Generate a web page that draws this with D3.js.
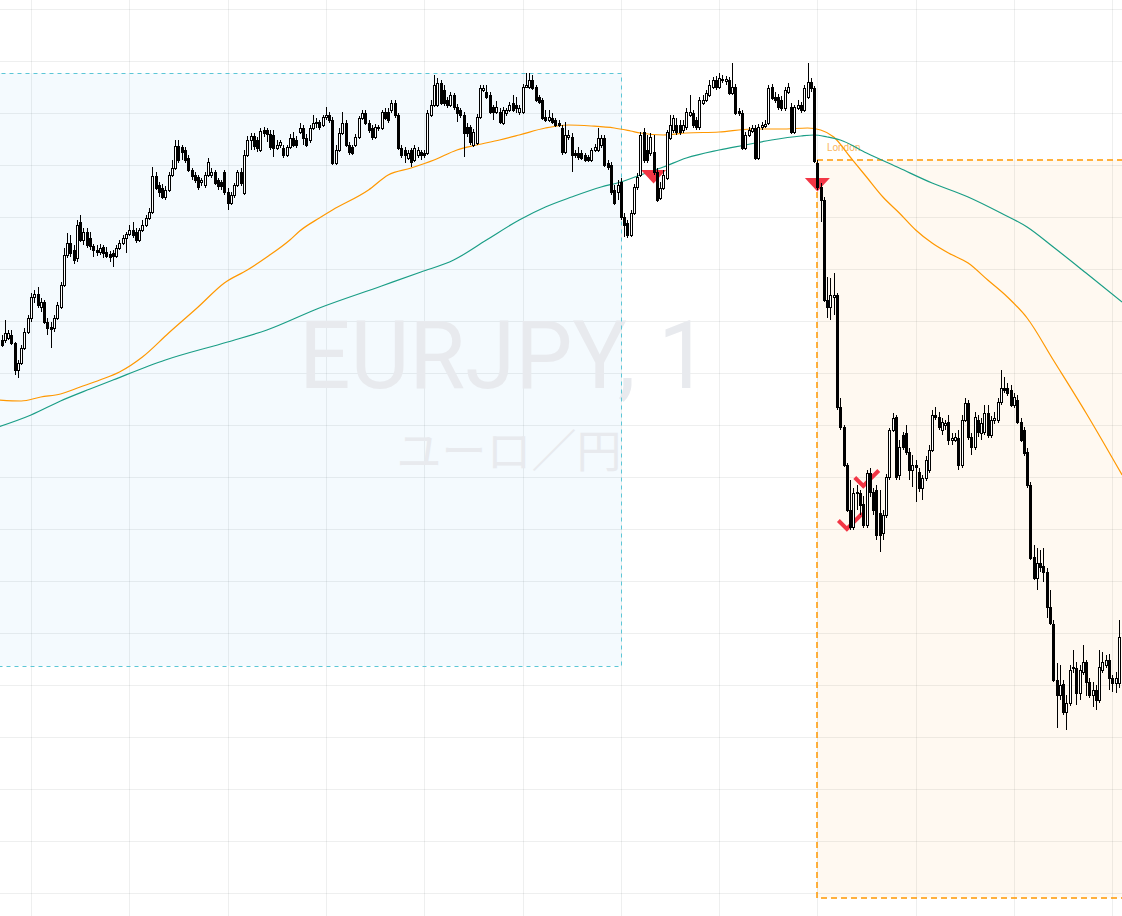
<!DOCTYPE html>
<html><head><meta charset="utf-8">
<script src="https://cdn.jsdelivr.net/npm/d3@7"></script>
<style>html,body{margin:0;padding:0;background:#fff;overflow:hidden}</style>
</head><body>
<svg id="chart" width="1122" height="916"></svg>
<script>
// ---------- DATA ----------
const symbolText = "EURJPY, 1";
const symbolName = "ユーロ／円";
const firstCandle = new Date(2024, 5, 12, 11, 51, 0);   // one candle per minute
const viewStart = new Date(2024, 5, 12, 11, 50, 32);
const viewEnd = new Date(2024, 5, 12, 17, 32, 58);

const opens = [
161.660,161.660,161.662,161.665,161.657,161.630,161.637,161.652,161.668,161.682,
161.703,161.706,161.693,161.698,161.678,161.673,161.672,161.682,161.693,161.715,
161.745,161.757,161.750,161.742,161.778,161.760,161.768,161.762,161.754,161.750,
161.748,161.753,161.748,161.746,161.747,161.744,161.752,161.757,161.762,161.766,
161.770,161.768,161.760,161.770,161.775,161.782,161.788,161.824,161.815,161.812,
161.803,161.810,161.825,161.832,161.854,161.853,161.850,161.842,161.830,161.825,
161.823,161.818,161.815,161.825,161.825,161.828,161.820,161.818,161.828,161.808,
161.797,161.805,161.815,161.828,161.807,161.845,161.860,161.864,161.860,161.850,
161.870,161.870,161.866,161.865,161.852,161.855,161.852,161.845,161.853,161.862,
161.860,161.868,161.872,161.862,161.860,161.872,161.877,161.878,161.875,161.883,
161.885,161.880,161.837,161.850,161.867,161.877,161.855,161.853,161.855,161.863,
161.882,161.887,161.877,161.872,161.863,161.873,161.872,161.888,161.888,161.890,
161.897,161.885,161.852,161.850,161.842,161.850,161.840,161.845,161.848,161.847,
161.847,161.885,161.895,161.895,161.917,161.910,161.900,161.895,161.905,161.893,
161.890,161.885,161.873,161.873,161.855,161.857,161.883,161.910,161.908,161.905,
161.893,161.888,161.888,161.877,161.887,161.890,161.897,161.895,161.888,161.888,
161.913,161.913,161.920,161.913,161.903,161.900,161.883,161.880,161.882,161.880,
161.877,161.872,161.848,161.863,161.863,161.847,161.847,161.847,161.845,161.843,
161.840,161.850,161.850,161.855,161.862,161.837,161.835,161.810,161.808,161.818,
161.783,161.777,161.765,161.787,161.813,161.825,161.868,161.850,161.847,161.848,
161.828,161.802,161.812,161.822,161.862,161.870,161.875,161.875,161.870,161.873,
161.885,161.887,161.880,161.873,161.897,161.900,161.905,161.913,161.920,161.913,
161.920,161.919,161.920,161.907,161.913,161.889,161.887,161.852,161.865,161.869,
161.872,161.842,161.873,161.874,161.877,161.913,161.903,161.903,161.900,161.892,
161.908,161.893,161.868,161.892,161.895,161.890,161.903,161.918,161.912,161.837,
161.813,161.800,161.700,161.693,161.703,161.705,161.593,161.573,161.535,161.490,
161.473,161.507,161.507,161.496,161.475,161.527,161.508,161.510,161.487,161.467,
161.485,161.523,161.570,161.583,161.525,161.565,161.567,161.548,161.530,161.535,
161.528,161.512,161.522,161.530,161.550,161.585,161.583,161.570,161.575,161.578,
161.560,161.560,161.562,161.535,161.580,161.597,161.563,161.553,161.580,161.567,
161.568,161.587,161.565,161.580,161.580,161.598,161.612,161.612,161.610,161.595,
161.600,161.578,161.570,161.548,161.515,161.443,161.422,161.437,161.434,161.428,
161.393,161.376,161.320,161.305,161.316,161.288,161.297,161.332,161.332,161.307,
161.328,161.338,161.318,161.305,161.310,161.300,161.330,161.335,161.340,161.322,
161.317,161.317];

const highs = [
161.665,161.680,161.670,161.670,161.658,161.640,161.655,161.672,161.685,161.707,
161.710,161.713,161.702,161.700,161.682,161.678,161.685,161.698,161.718,161.752,
161.767,161.765,161.755,161.780,161.785,161.772,161.772,161.768,161.756,161.755,
161.756,161.755,161.753,161.749,161.750,161.755,161.760,161.765,161.768,161.775,
161.778,161.772,161.772,161.780,161.785,161.792,161.833,161.828,161.818,161.816,
161.814,161.828,161.840,161.860,161.860,161.855,161.853,161.845,161.832,161.828,
161.825,161.822,161.828,161.842,161.832,161.830,161.822,161.820,161.830,161.812,
161.808,161.817,161.830,161.832,161.850,161.864,161.867,161.867,161.863,161.872,
161.873,161.872,161.870,161.870,161.860,161.860,161.855,161.855,161.866,161.868,
161.864,161.877,161.875,161.866,161.875,161.885,161.882,161.880,161.885,161.893,
161.888,161.883,161.855,161.872,161.888,161.880,161.858,161.855,161.866,161.884,
161.890,161.890,161.880,161.875,161.876,161.875,161.890,161.892,161.892,161.900,
161.900,161.887,161.855,161.853,161.850,161.852,161.855,161.853,161.850,161.850,
161.890,161.900,161.925,161.922,161.920,161.915,161.903,161.908,161.907,161.896,
161.892,161.888,161.877,161.875,161.871,161.886,161.915,161.915,161.915,161.908,
161.895,161.899,161.892,161.893,161.892,161.898,161.905,161.903,161.895,161.916,
161.927,161.927,161.925,161.915,161.905,161.902,161.890,161.890,161.887,161.882,
161.880,161.875,161.878,161.870,161.867,161.850,161.853,161.850,161.847,161.845,
161.852,161.856,161.872,161.865,161.865,161.840,161.838,161.815,161.820,161.822,
161.787,161.780,161.790,161.816,161.827,161.868,161.872,161.865,161.867,161.865,
161.832,161.818,161.830,161.870,161.885,161.885,161.882,161.880,161.880,161.892,
161.905,161.890,161.883,161.903,161.905,161.910,161.920,161.923,161.924,161.927,
161.925,161.924,161.923,161.937,161.916,161.892,161.890,161.868,161.873,161.875,
161.875,161.876,161.878,161.880,161.915,161.916,161.908,161.906,161.904,161.913,
161.917,161.897,161.895,161.900,161.898,161.915,161.937,161.922,161.914,161.840,
161.817,161.803,161.723,161.722,161.727,161.707,161.602,161.575,161.537,161.520,
161.512,161.515,161.510,161.504,161.530,161.532,161.512,161.515,161.510,161.490,
161.526,161.572,161.587,161.585,161.560,161.568,161.575,161.552,161.545,161.540,
161.532,161.525,161.544,161.555,161.590,161.593,161.588,161.582,161.580,161.585,
161.567,161.567,161.570,161.585,161.602,161.600,161.567,161.588,161.585,161.582,
161.595,161.595,161.584,161.588,161.602,161.630,161.623,161.617,161.615,161.607,
161.605,161.582,161.573,161.552,161.518,161.455,161.452,161.450,161.452,161.432,
161.410,161.380,161.337,161.335,161.320,161.305,161.335,161.350,161.338,161.335,
161.355,161.340,161.322,161.318,161.315,161.350,161.348,161.345,161.346,161.325,
161.328,161.380];

const lows = [
161.653,161.657,161.660,161.655,161.625,161.622,161.635,161.650,161.666,161.678,
161.697,161.692,161.688,161.676,161.665,161.652,161.668,161.680,161.691,161.713,
161.742,161.743,161.736,161.738,161.758,161.755,161.752,161.750,161.743,161.744,
161.745,161.742,161.742,161.738,161.733,161.742,161.750,161.755,161.747,161.764,
161.762,161.757,161.758,161.768,161.773,161.780,161.786,161.810,161.803,161.801,
161.800,161.808,161.823,161.830,161.837,161.840,161.837,161.828,161.820,161.817,
161.810,161.814,161.812,161.823,161.822,161.815,161.810,161.810,161.805,161.790,
161.795,161.802,161.813,161.814,161.805,161.843,161.850,161.850,161.848,161.848,
161.863,161.858,161.850,161.843,161.850,161.852,161.842,161.843,161.851,161.853,
161.852,161.866,161.855,161.853,161.857,161.870,161.872,161.870,161.873,161.880,
161.877,161.835,161.835,161.848,161.865,161.853,161.845,161.845,161.853,161.861,
161.880,161.875,161.867,161.860,161.861,161.869,161.870,161.880,161.877,161.887,
161.882,161.850,161.842,161.837,161.840,161.833,161.838,161.842,161.840,161.842,
161.845,161.883,161.893,161.893,161.895,161.894,161.892,161.893,161.890,161.878,
161.882,161.843,161.863,161.855,161.853,161.855,161.881,161.908,161.901,161.886,
161.880,161.886,161.876,161.875,161.884,161.888,161.888,161.887,161.885,161.886,
161.912,161.911,161.910,161.898,161.896,161.880,161.878,161.878,161.876,161.873,
161.873,161.845,161.846,161.860,161.828,161.842,161.840,161.840,161.838,161.838,
161.838,161.848,161.848,161.852,161.833,161.830,161.805,161.795,161.800,161.780,
161.763,161.762,161.763,161.785,161.810,161.823,161.837,161.837,161.844,161.825,
161.798,161.800,161.810,161.820,161.860,161.867,161.865,161.865,161.867,161.870,
161.883,161.872,161.870,161.870,161.895,161.898,161.903,161.911,161.910,161.911,
161.917,161.915,161.905,161.905,161.885,161.884,161.850,161.850,161.863,161.867,
161.840,161.840,161.870,161.872,161.875,161.900,161.897,161.890,161.889,161.889,
161.906,161.866,161.866,161.890,161.887,161.888,161.901,161.908,161.837,161.810,
161.778,161.698,161.682,161.680,161.685,161.590,161.570,161.533,161.488,161.470,
161.470,161.490,161.485,161.472,161.472,161.503,161.485,161.460,161.448,161.460,
161.482,161.520,161.568,161.520,161.520,161.550,161.545,161.520,161.513,161.498,
161.508,161.500,161.519,161.527,161.548,161.580,161.570,161.565,161.570,161.555,
161.555,161.558,161.530,161.532,161.578,161.560,161.545,161.550,161.563,161.560,
161.565,161.562,161.562,161.576,161.577,161.595,161.607,161.604,161.593,161.592,
161.576,161.558,161.544,161.512,161.440,161.420,161.410,161.428,161.418,161.382,
161.375,161.318,161.272,161.300,161.285,161.270,161.294,161.327,161.295,161.300,
161.325,161.304,161.302,161.293,161.290,161.297,161.327,161.332,161.310,161.308,
161.307,161.312];

const closes = [
161.655,161.667,161.667,161.657,161.630,161.637,161.652,161.668,161.682,161.703,
161.706,161.695,161.698,161.678,161.672,161.671,161.682,161.695,161.715,161.745,
161.757,161.747,161.740,161.775,161.760,161.768,161.755,161.754,161.750,161.748,
161.752,161.747,161.744,161.743,161.744,161.752,161.757,161.762,161.766,161.770,
161.765,161.760,161.770,161.775,161.782,161.788,161.824,161.812,161.808,161.803,
161.810,161.825,161.832,161.854,161.840,161.848,161.840,161.830,161.824,161.820,
161.813,161.820,161.825,161.838,161.828,161.817,161.814,161.814,161.808,161.797,
161.805,161.815,161.828,161.817,161.845,161.860,161.864,161.854,161.852,161.869,
161.867,161.866,161.853,161.852,161.855,161.858,161.845,161.853,161.862,161.855,
161.855,161.872,161.862,161.855,161.872,161.877,161.878,161.873,161.883,161.885,
161.880,161.837,161.850,161.867,161.877,161.855,161.848,161.847,161.863,161.882,
161.887,161.877,161.870,161.863,161.873,161.872,161.888,161.882,161.880,161.897,
161.885,161.852,161.845,161.845,161.847,161.838,161.852,161.850,161.845,161.845,
161.887,161.895,161.915,161.917,161.897,161.897,161.895,161.905,161.893,161.887,
161.885,161.867,161.867,161.858,161.868,161.883,161.912,161.912,161.903,161.888,
161.888,161.893,161.878,161.890,161.890,161.895,161.890,161.892,161.892,161.913,
161.915,161.920,161.912,161.900,161.898,161.882,161.880,161.883,161.878,161.875,
161.875,161.848,161.865,161.865,161.845,161.845,161.843,161.842,161.840,161.840,
161.850,161.853,161.862,161.862,161.835,161.833,161.808,161.797,161.815,161.783,
161.775,161.765,161.787,161.813,161.823,161.865,161.840,161.840,161.863,161.828,
161.800,161.812,161.825,161.868,161.875,161.882,161.868,161.868,161.875,161.888,
161.888,161.875,161.873,161.900,161.900,161.907,161.915,161.920,161.913,161.922,
161.921,161.921,161.907,161.913,161.887,161.887,161.852,161.865,161.870,161.872,
161.842,161.873,161.875,161.876,161.912,161.902,161.900,161.893,161.892,161.910,
161.913,161.868,161.893,161.895,161.890,161.912,161.918,161.912,161.839,161.813,
161.800,161.700,161.693,161.705,161.705,161.593,161.573,161.535,161.490,161.473,
161.507,161.508,161.495,161.475,161.527,161.508,161.490,161.465,161.465,161.485,
161.523,161.570,161.582,161.523,161.553,161.553,161.548,161.530,161.535,161.533,
161.512,161.522,161.540,161.550,161.585,161.583,161.573,161.578,161.577,161.560,
161.562,161.563,161.535,161.580,161.597,161.563,161.553,161.583,161.568,161.577,
161.587,161.565,161.580,161.582,161.598,161.612,161.610,161.607,161.595,161.603,
161.578,161.560,161.547,161.515,161.442,161.422,161.437,161.433,161.428,161.393,
161.377,161.320,161.305,161.315,161.288,161.297,161.330,161.333,161.307,161.330,
161.338,161.318,161.305,161.310,161.300,161.333,161.338,161.340,161.322,161.317,
161.322,161.363];

// moving averages, sampled (minutes after first candle, value)
const maFastMin = [-1,6,12,18,24,30,36,43,51,60,68,75,81,88,91,97,101,112,118,125,132,139,145,152,158,166,173,180,187,192,195,202,209,219,229,238,246,250,254,259,264,269,274,279,284,289,295,301,307,313,321,331,342];
const maFastVal = [161.600,161.599,161.603,161.606,161.613,161.620,161.628,161.643,161.667,161.693,161.717,161.730,161.743,161.760,161.769,161.782,161.790,161.810,161.825,161.832,161.840,161.850,161.855,161.860,161.865,161.872,161.875,161.874,161.872,161.869,161.867,161.865,161.867,161.868,161.871,161.871,161.872,161.870,161.863,161.843,161.823,161.803,161.787,161.770,161.757,161.747,161.737,161.720,161.703,161.682,161.640,161.587,161.525];
const maSlowMin = [-1,9,18,27,34,50,69,81,97,116,128,138,148,158,166,174,183,189,195,202,209,219,227,235,244,248,252,256,264,274,284,295,305,313,321,331,342];
const maSlowVal = [161.573,161.585,161.599,161.611,161.620,161.640,161.658,161.670,161.692,161.714,161.728,161.740,161.760,161.780,161.793,161.803,161.813,161.818,161.825,161.833,161.842,161.850,161.855,161.860,161.864,161.865,161.863,161.860,161.847,161.832,161.817,161.803,161.787,161.773,161.753,161.727,161.698];

// sessions
const sessionNames = ["Tokyo", "London"];
const sessionStart = [new Date(2024,5,12,9,0), new Date(2024,5,12,16,0)];
const sessionEnd   = [new Date(2024,5,12,15,0), new Date(2024,5,13,0,30)];
const sessionHigh  = [161.927, 161.840];
const sessionLow   = [161.334, 161.102];
const sessionLabel = [false, true];

// signal markers (candle index, price, kind)
const markerIdx   = [199, 249, 258, 263];
const markerPrice = [161.830, 161.822, 161.471, 161.514];
const markerKind  = ["down", "down", "check", "check"];

// horizontal grid price levels
const gridLevels = [161.9907,161.9387,161.8867,161.8347,161.7827,161.7307,161.6787,161.6267,161.5747,161.5227,161.4707,161.4187,161.3667,161.3147,161.2627,161.2107,161.1587,161.1067];

// ---------- CHART ----------
const W = 1122, H = 916;
const svg = d3.select("#chart");
const x = d3.scaleTime().domain([viewStart, viewEnd]).range([0, W]);
const y = d3.scaleLinear().domain([162.000, 161.084]).range([0, H]);
const MIN = 60000;
const tAt = i => new Date(+firstCandle + i * MIN);

svg.append("rect").attr("width", W).attr("height", H).attr("fill", "#ffffff");

// grid
const grid = svg.append("g").attr("stroke", "rgba(42,46,57,0.08)").attr("stroke-width", 1).attr("shape-rendering", "crispEdges");
grid.selectAll("line.v").data(x.ticks(d3.timeMinute.every(30))).join("line")
  .attr("x1", d => Math.round(x(d)) + 0.5).attr("x2", d => Math.round(x(d)) + 0.5)
  .attr("y1", 0).attr("y2", H);
grid.selectAll("line.h").data(gridLevels).join("line")
  .attr("y1", d => Math.round(y(d)) + 0.5).attr("y2", d => Math.round(y(d)) + 0.5)
  .attr("x1", 0).attr("x2", W);

// sessions: fills
const sessFill = ["rgba(33,150,243,0.05)", "rgba(255,152,0,0.055)"];
const sessStroke = ["#5cc6d6", "#ff9800"];
const sessDash = ["4,4", "6,4"];
const sessWidth = [1, 1.5];
const sessGeom = sessionNames.map((name, i) => ({
  x0: Math.round(x(sessionStart[i])), x1: Math.round(x(sessionEnd[i])),
  y0: Math.round(y(sessionHigh[i])), y1: Math.round(y(sessionLow[i]))
}));
sessGeom.forEach((s, i) => {
  svg.append("rect").attr("x", s.x0).attr("y", s.y0).attr("width", s.x1 - s.x0).attr("height", s.y1 - s.y0)
    .attr("fill", sessFill[i]);
});

// watermark
const wm = svg.append("g");
wm.append("text").text(symbolText)
  .attr("x", 299).attr("y", 388)
  .attr("textLength", 410).attr("lengthAdjust", "spacingAndGlyphs")
  .attr("font-family", "Roboto, 'Noto Sans', sans-serif").attr("font-size", 95)
  .attr("fill", "#e8eaee");
wm.append("text").text(symbolName)
  .attr("x", 509).attr("y", 468).attr("text-anchor", "middle")
  .attr("font-family", "'Noto Sans CJK JP', sans-serif").attr("font-size", 45)
  .attr("fill", "#e8eaee");

// sessions: borders and label
sessGeom.forEach((s, i) => {
  const off = sessWidth[i] === 1 ? 0.5 : 0;
  svg.append("rect").attr("x", s.x0 + off).attr("y", s.y0 + off)
    .attr("width", s.x1 - s.x0).attr("height", s.y1 - s.y0)
    .attr("fill", "none").attr("stroke", sessStroke[i]).attr("stroke-width", sessWidth[i])
    .attr("stroke-dasharray", sessDash[i]);
  if (sessionLabel[i]) {
    svg.append("text").text(sessionNames[i]).attr("x", s.x0 + 10).attr("y", s.y0 - 9)
      .attr("font-family", "Roboto, sans-serif").attr("font-size", 10).attr("fill", "#f9b862");
  }
});

// moving averages
const line = d3.line().x(d => x(d[0])).y(d => y(d[1])).curve(d3.curveMonotoneX);
svg.append("path").datum(maFastMin.map((m, i) => [tAt(m), maFastVal[i]]))
  .attr("d", line).attr("fill", "none").attr("stroke", "#ff9800").attr("stroke-width", 1.2);
svg.append("path").datum(maSlowMin.map((m, i) => [tAt(m), maSlowVal[i]]))
  .attr("d", line).attr("fill", "none").attr("stroke", "#1a9e86").attr("stroke-width", 1.2);

// markers
const mk = svg.append("g");
markerIdx.forEach((idx, i) => {
  const cx = x(tAt(idx)), cy = y(markerPrice[i]);
  if (markerKind[i] === "down") {
    mk.append("path").attr("d", `M${cx-12.5},${cy}L${cx+12.5},${cy}L${cx},${cy+13.5}Z`).attr("fill", "#f23645");
  } else {
    mk.append("path").attr("d", `M${cx-8.5},${cy-8.5}L${cx},${cy}L${cx+15.5},${cy-15.5}`)
      .attr("fill", "none").attr("stroke", "#f23645").attr("stroke-width", 4);
  }
});

// candles
const candles = opens.map((o, i) => ({ t: tAt(i), o, h: highs[i], l: lows[i], c: closes[i] }));
const cg = svg.append("g").attr("shape-rendering", "crispEdges");
cg.selectAll("line").data(candles).join("line")
  .attr("x1", d => Math.round(x(d.t)) + 0.5).attr("x2", d => Math.round(x(d.t)) + 0.5)
  .attr("y1", d => y(d.h)).attr("y2", d => y(d.l))
  .attr("stroke", "#000").attr("stroke-width", 1);
cg.selectAll("rect").data(candles).join("rect")
  .attr("x", d => Math.round(x(d.t)) - 0.5).attr("width", 2)
  .attr("y", d => Math.round(y(Math.max(d.o, d.c))) + 0.5)
  .attr("height", d => Math.max(1, Math.round(Math.abs(y(d.o) - y(d.c)))))
  .attr("fill", d => d.c >= d.o ? "#ffffff" : "#000000")
  .attr("stroke", "#000").attr("stroke-width", 1);
</script>
</body></html>
